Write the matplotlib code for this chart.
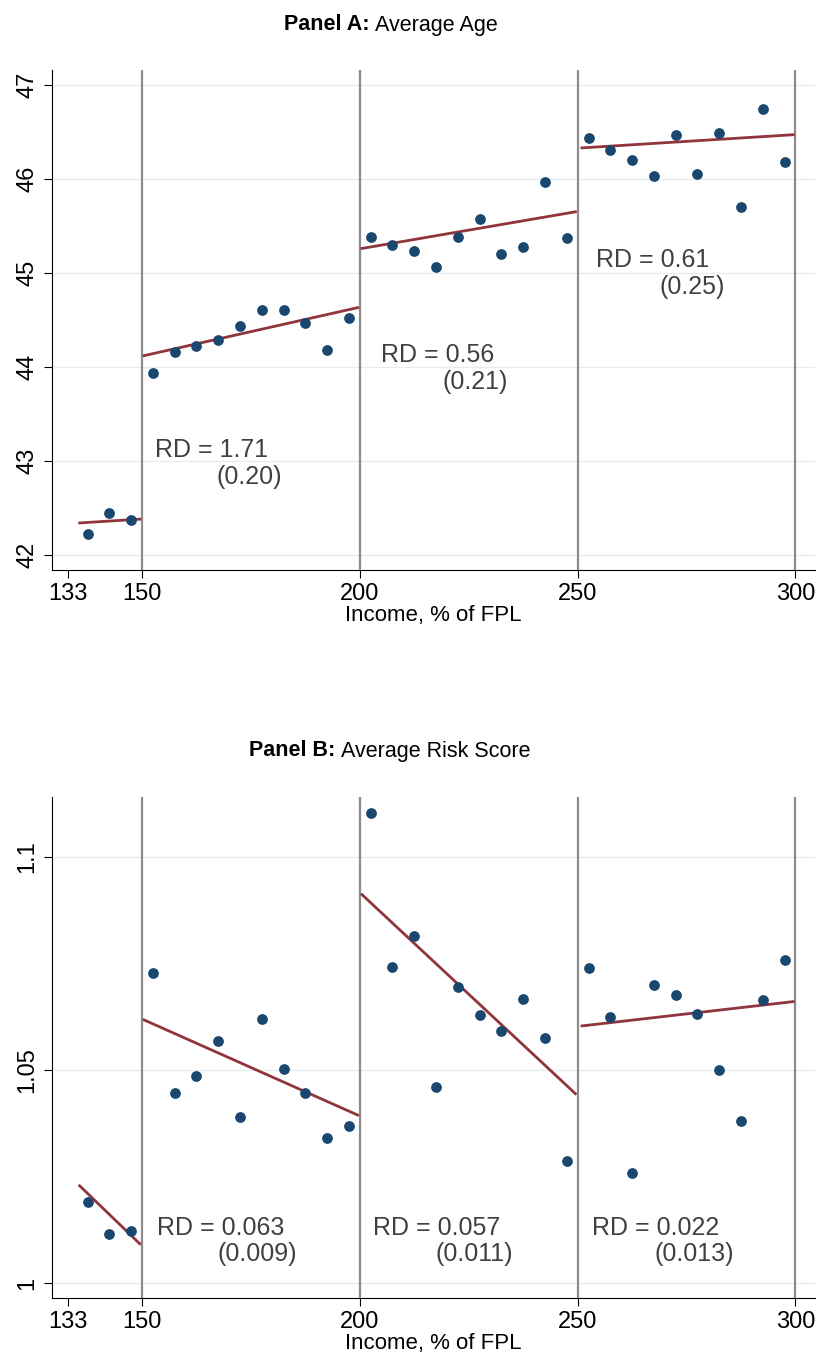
import numpy as np
import matplotlib
matplotlib.use("Agg")
import matplotlib.pyplot as plt

plt.rcParams['font.family'] = ['Liberation Sans', 'DejaVu Sans']

bins = [137.5 + 5 * i for i in range(33)]

age = [42.22, 42.45, 42.37,
       43.94, 44.16, 44.22, 44.29, 44.43, 44.61, 44.60, 44.47, 44.18, 44.52,
       45.38, 45.30, 45.23, 45.06, 45.38, 45.57, 45.20, 45.28, 45.97, 45.37,
       46.43, 46.31, 46.20, 46.03, 46.47, 46.05, 46.49, 45.70, 46.74, 46.18]
risk = [1.0190, 1.0115, 1.0122,
        1.0728, 1.0446, 1.0486, 1.0568, 1.0390, 1.0620, 1.0502, 1.0446, 1.0340, 1.0369,
        1.1103, 1.0742, 1.0815, 1.0460, 1.0695, 1.0629, 1.0592, 1.0667, 1.0575, 1.0286,
        1.0739, 1.0624, 1.0258, 1.0700, 1.0676, 1.0631, 1.0500, 1.0380, 1.0664, 1.0758]

seg_x = [(135.7, 149.5), (150.5, 199.5), (200.5, 249.5), (251.0, 299.5)]
age_fit = [(42.34, 42.38), (44.12, 44.63), (45.26, 45.65), (46.33, 46.47)]
risk_fit = [(1.0228, 1.0092), (1.0617, 1.0394), (1.0911, 1.0444), (1.0603, 1.0660)]

age_rd = [("RD = 1.71", "(0.20)"), ("RD = 0.56", "(0.21)"), ("RD = 0.61", "(0.25)")]
age_rd_pos = [(153, 43.12, 167.2, 42.83), (204.8, 44.13, 219, 43.84), (254.3, 45.14, 268.8, 44.85)]
risk_rd = [("RD = 0.063", "(0.009)"), ("RD = 0.057", "(0.011)"), ("RD = 0.022", "(0.013)")]
risk_rd_pos = [(153.4, 1.0129, 167.4, 1.0068), (203, 1.0129, 217.4, 1.0068), (253.2, 1.0129, 267.6, 1.0068)]

dot = '#1a476f'
fitc = '#90353b'

fig = plt.figure(figsize=(8.22, 13.7), dpi=100)
axA = fig.add_axes([0.063, 0.584, 0.928, 0.365])
axB = fig.add_axes([0.063, 0.0526, 0.928, 0.366])


def panel(ax, y, fit, rd, rdpos, ylim, yticks, yticklabels):
    for v in yticks:
        ax.axhline(v, color='#e6ecef', lw=1, zorder=0)
    for v in [150, 200, 250, 300]:
        ax.axvline(v, color='#8c8c8c', lw=1.6, zorder=1)
    ax.scatter(bins, y, s=45, color=dot, zorder=3)
    for (x0, x1), (y0, y1) in zip(seg_x, fit):
        ax.plot([x0, x1], [y0, y1], color=fitc, lw=2, zorder=2)
    for (a, b), (x1, y1, x2, y2) in zip(rd, rdpos):
        ax.text(x1, y1, a, fontsize=18, color='#404040', va='center')
        ax.text(x2, y2, b, fontsize=18, color='#404040', va='center')
    ax.set_xlim(129.3, 304.4)
    ax.set_ylim(*ylim)
    ax.set_xticks([133, 150, 200, 250, 300])
    ax.set_xticklabels(['133', '150', '200', '250', '300'], fontsize=17)
    ax.set_yticks(yticks)
    ax.set_yticklabels(yticklabels, fontsize=17, rotation=90, va='center')
    ax.spines['top'].set_visible(False)
    ax.spines['right'].set_visible(False)
    ax.tick_params(length=6)
    ax.set_xlabel('Income, % of FPL', fontsize=16, labelpad=0)


panel(axA, age, age_fit, age_rd, age_rd_pos, (41.84, 47.16),
      [42, 43, 44, 45, 46, 47], ['42', '43', '44', '45', '46', '47'])
panel(axB, risk, risk_fit, risk_rd, risk_rd_pos, (0.9965, 1.1141),
      [1.0, 1.05, 1.1], ['1', '1.05', '1.1'])

for xb, xr, yt, name in [(369, 375, 25, 'Average Age'), (335, 341, 751, 'Average Risk Score')]:
    lab = 'Panel A:' if yt < 100 else 'Panel B:'
    fig.text(xb / 822, 1 - yt / 1370, lab, fontsize=15.5, fontweight='bold', ha='right', va='center')
    fig.text(xr / 822, 1 - yt / 1370, name, fontsize=15.5, ha='left', va='center')

fig.savefig('out.png', dpi=100)
